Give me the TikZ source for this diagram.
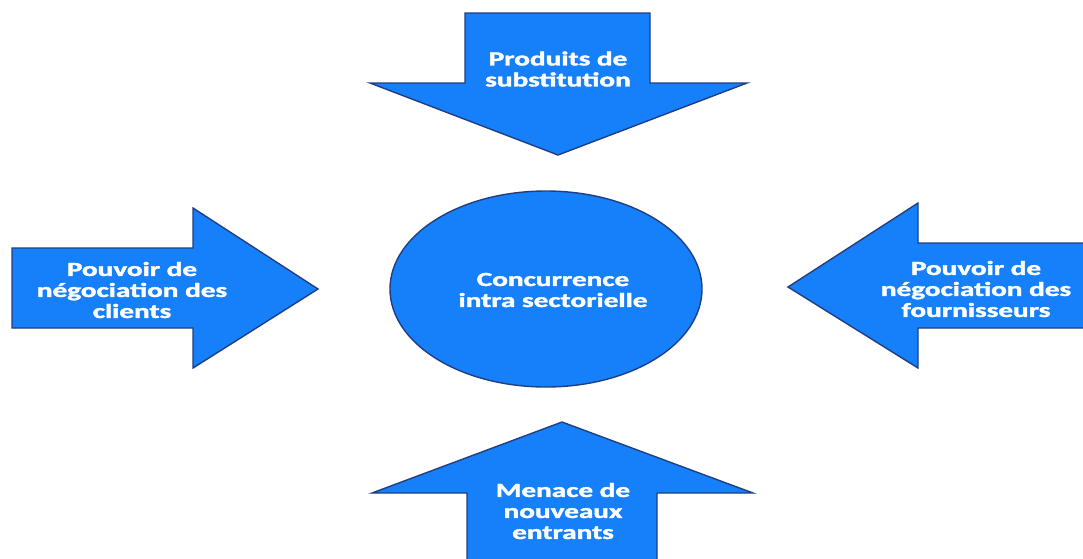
\documentclass[tikz,border=0pt]{standalone}
\usepackage{fontspec}
\setmainfont{Carlito}
\newfontfamily\forcefont{Carlito}[UprightFont=* Bold,FakeBold=1.6]
\usetikzlibrary{shapes.geometric}
\definecolor{forcefill}{RGB}{22,128,250}
\definecolor{forceedge}{RGB}{34,62,130}
\begin{document}
\begin{tikzpicture}[x=1pt,y=-1pt,
  force/.style={fill=forcefill,draw=forceedge,line width=1.4pt,line join=miter},
  label/.style={text=white,align=center,inner sep=0pt,xscale=1.46,
    font=\fontsize{20}{21}\selectfont\forcefont}]
\useasboundingbox (0,0) rectangle (1083,558);
\fill[white] (0,0) rectangle (1083,558);

% central rivalry
\node[force,ellipse,minimum width=312pt,minimum height=196pt,inner sep=0pt] (rivalry) at (546,289) {};
\node[label] (rivalrytext) at (553,290) {Concurrence\\intra sectorielle};

% substitutes, pointing down
\draw[force] (465,13) -- (650,13) -- (650,83) -- (747,83) -- (558,155) -- (370,83) -- (465,83) -- cycle;
\node[label] (subst) at (558,69) {Produits de\\substitution};

% buyers, pointing right
\draw[force] (12,248) -- (193,248) -- (193,208) -- (318,289) -- (193,368) -- (193,328) -- (12,328) -- cycle;
\node[label] (buyers) at (132,290) {Pouvoir de\\négociation des\\clients};

% suppliers, pointing left
\draw[force] (1095,243) -- (918,243) -- (918,203) -- (788,287) -- (918,368) -- (918,328) -- (1095,328) -- cycle;
\node[label] (suppliers) at (976,289) {Pouvoir de\\négociation des\\fournisseurs};

% new entrants, pointing up
\draw[force] (467,570) -- (467,493) -- (372,493) -- (562,422) -- (753,493) -- (657,493) -- (657,570) -- cycle;
\node[label] (entrants) at (563,511) {Menace de\\nouveaux\\entrants};
\end{tikzpicture}
\end{document}
